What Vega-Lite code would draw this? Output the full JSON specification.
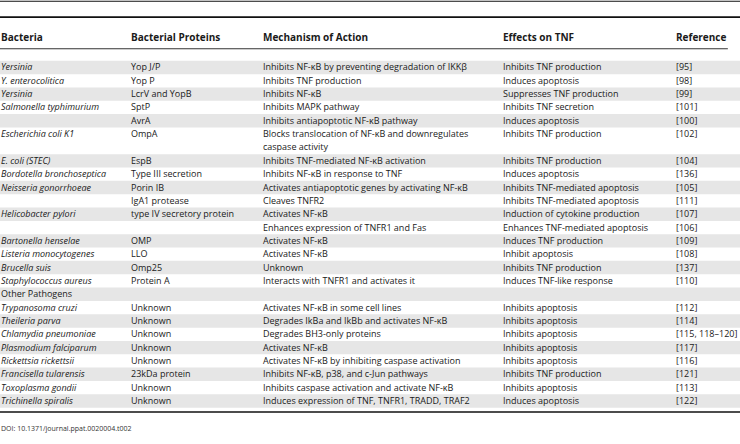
{
  "$schema": "https://vega.github.io/schema/vega-lite/v6.json",
  "padding": 0,
  "spacing": 0,
  "bounds": "flush",
  "config": {"view": {"stroke": null}, "text": {"font": "Open Sans", "fontSize": 9, "color": "#1a1a1a", "align": "left", "baseline": "middle"}},
  "datasets": {
    "header": [
      {"col": "Bacteria", "text": "Bacteria"},
      {"col": "Bacterial Proteins", "text": "Bacterial Proteins"},
      {"col": "Mechanism of Action", "text": "Mechanism of Action"},
      {"col": "Effects on TNF", "text": "Effects on TNF"},
      {"col": "Reference", "text": "Reference"}
    ],
    "cells": [
      {"row": 1, "line": 1, "col": "Bacteria", "text": "Yersinia"},
      {"row": 1, "line": 1, "col": "Bacterial Proteins", "text": "Yop J/P"},
      {"row": 1, "line": 1, "col": "Mechanism of Action", "text": "Inhibits NF-κB by preventing degradation of IKKβ"},
      {"row": 1, "line": 1, "col": "Effects on TNF", "text": "Inhibits TNF production"},
      {"row": 1, "line": 1, "col": "Reference", "text": "[95]"},
      {"row": 2, "line": 2, "col": "Bacteria", "text": "Y. enterocolitica"},
      {"row": 2, "line": 2, "col": "Bacterial Proteins", "text": "Yop P"},
      {"row": 2, "line": 2, "col": "Mechanism of Action", "text": "Inhibits TNF production"},
      {"row": 2, "line": 2, "col": "Effects on TNF", "text": "Induces apoptosis"},
      {"row": 2, "line": 2, "col": "Reference", "text": "[98]"},
      {"row": 3, "line": 3, "col": "Bacteria", "text": "Yersinia"},
      {"row": 3, "line": 3, "col": "Bacterial Proteins", "text": "LcrV and YopB"},
      {"row": 3, "line": 3, "col": "Mechanism of Action", "text": "Inhibits NF-κB"},
      {"row": 3, "line": 3, "col": "Effects on TNF", "text": "Suppresses TNF production"},
      {"row": 3, "line": 3, "col": "Reference", "text": "[99]"},
      {"row": 4, "line": 4, "col": "Bacteria", "text": "Salmonella typhimurium"},
      {"row": 4, "line": 4, "col": "Bacterial Proteins", "text": "SptP"},
      {"row": 4, "line": 4, "col": "Mechanism of Action", "text": "Inhibits MAPK pathway"},
      {"row": 4, "line": 4, "col": "Effects on TNF", "text": "Inhibits TNF secretion"},
      {"row": 4, "line": 4, "col": "Reference", "text": "[101]"},
      {"row": 5, "line": 5, "col": "Bacteria", "text": ""},
      {"row": 5, "line": 5, "col": "Bacterial Proteins", "text": "AvrA"},
      {"row": 5, "line": 5, "col": "Mechanism of Action", "text": "Inhibits antiapoptotic NF-κB pathway"},
      {"row": 5, "line": 5, "col": "Effects on TNF", "text": "Induces apoptosis"},
      {"row": 5, "line": 5, "col": "Reference", "text": "[100]"},
      {"row": 6, "line": 6, "col": "Bacteria", "text": "Escherichia coli K1"},
      {"row": 6, "line": 6, "col": "Bacterial Proteins", "text": "OmpA"},
      {"row": 6, "line": 6, "col": "Mechanism of Action", "text": "Blocks translocation of NF-κB and downregulates"},
      {"row": 6, "line": 7, "col": "Mechanism of Action", "text": "caspase activity"},
      {"row": 6, "line": 6, "col": "Effects on TNF", "text": "Inhibits TNF production"},
      {"row": 6, "line": 6, "col": "Reference", "text": "[102]"},
      {"row": 7, "line": 8, "col": "Bacteria", "text": "E. coli (STEC)"},
      {"row": 7, "line": 8, "col": "Bacterial Proteins", "text": "EspB"},
      {"row": 7, "line": 8, "col": "Mechanism of Action", "text": "Inhibits TNF-mediated NF-κB activation"},
      {"row": 7, "line": 8, "col": "Effects on TNF", "text": "Inhibits TNF production"},
      {"row": 7, "line": 8, "col": "Reference", "text": "[104]"},
      {"row": 8, "line": 9, "col": "Bacteria", "text": "Bordotella bronchoseptica"},
      {"row": 8, "line": 9, "col": "Bacterial Proteins", "text": "Type III secretion"},
      {"row": 8, "line": 9, "col": "Mechanism of Action", "text": "Inhibits NF-κB in response to TNF"},
      {"row": 8, "line": 9, "col": "Effects on TNF", "text": "Induces apoptosis"},
      {"row": 8, "line": 9, "col": "Reference", "text": "[136]"},
      {"row": 9, "line": 10, "col": "Bacteria", "text": "Neisseria gonorrhoeae"},
      {"row": 9, "line": 10, "col": "Bacterial Proteins", "text": "Porin IB"},
      {"row": 9, "line": 10, "col": "Mechanism of Action", "text": "Activates antiapoptotic genes by activating NF-κB"},
      {"row": 9, "line": 10, "col": "Effects on TNF", "text": "Inhibits TNF-mediated apoptosis"},
      {"row": 9, "line": 10, "col": "Reference", "text": "[105]"},
      {"row": 10, "line": 11, "col": "Bacteria", "text": ""},
      {"row": 10, "line": 11, "col": "Bacterial Proteins", "text": "IgA1 protease"},
      {"row": 10, "line": 11, "col": "Mechanism of Action", "text": "Cleaves TNFR2"},
      {"row": 10, "line": 11, "col": "Effects on TNF", "text": "Inhibits TNF-mediated apoptosis"},
      {"row": 10, "line": 11, "col": "Reference", "text": "[111]"},
      {"row": 11, "line": 12, "col": "Bacteria", "text": "Helicobacter pylori"},
      {"row": 11, "line": 12, "col": "Bacterial Proteins", "text": "type IV secretory protein"},
      {"row": 11, "line": 12, "col": "Mechanism of Action", "text": "Activates NF-κB"},
      {"row": 11, "line": 12, "col": "Effects on TNF", "text": "Induction of cytokine production"},
      {"row": 11, "line": 12, "col": "Reference", "text": "[107]"},
      {"row": 12, "line": 13, "col": "Bacteria", "text": ""},
      {"row": 12, "line": 13, "col": "Bacterial Proteins", "text": ""},
      {"row": 12, "line": 13, "col": "Mechanism of Action", "text": "Enhances expression of TNFR1 and Fas"},
      {"row": 12, "line": 13, "col": "Effects on TNF", "text": "Enhances TNF-mediated apoptosis"},
      {"row": 12, "line": 13, "col": "Reference", "text": "[106]"},
      {"row": 13, "line": 14, "col": "Bacteria", "text": "Bartonella henselae"},
      {"row": 13, "line": 14, "col": "Bacterial Proteins", "text": "OMP"},
      {"row": 13, "line": 14, "col": "Mechanism of Action", "text": "Activates NF-κB"},
      {"row": 13, "line": 14, "col": "Effects on TNF", "text": "Induces TNF production"},
      {"row": 13, "line": 14, "col": "Reference", "text": "[109]"},
      {"row": 14, "line": 15, "col": "Bacteria", "text": "Listeria monocytogenes"},
      {"row": 14, "line": 15, "col": "Bacterial Proteins", "text": "LLO"},
      {"row": 14, "line": 15, "col": "Mechanism of Action", "text": "Activates NF-κB"},
      {"row": 14, "line": 15, "col": "Effects on TNF", "text": "Inhibit apoptosis"},
      {"row": 14, "line": 15, "col": "Reference", "text": "[108]"},
      {"row": 15, "line": 16, "col": "Bacteria", "text": "Brucella suis"},
      {"row": 15, "line": 16, "col": "Bacterial Proteins", "text": "Omp25"},
      {"row": 15, "line": 16, "col": "Mechanism of Action", "text": "Unknown"},
      {"row": 15, "line": 16, "col": "Effects on TNF", "text": "Inhibits TNF production"},
      {"row": 15, "line": 16, "col": "Reference", "text": "[137]"},
      {"row": 16, "line": 17, "col": "Bacteria", "text": "Staphylococcus aureus"},
      {"row": 16, "line": 17, "col": "Bacterial Proteins", "text": "Protein A"},
      {"row": 16, "line": 17, "col": "Mechanism of Action", "text": "Interacts with TNFR1 and activates it"},
      {"row": 16, "line": 17, "col": "Effects on TNF", "text": "Induces TNF-like response"},
      {"row": 16, "line": 17, "col": "Reference", "text": "[110]"},
      {"row": 17, "line": 18, "col": "Bacteria", "text": "Other Pathogens"},
      {"row": 18, "line": 19, "col": "Bacteria", "text": "Trypanosoma cruzi"},
      {"row": 18, "line": 19, "col": "Bacterial Proteins", "text": "Unknown"},
      {"row": 18, "line": 19, "col": "Mechanism of Action", "text": "Activates NF-κB in some cell lines"},
      {"row": 18, "line": 19, "col": "Effects on TNF", "text": "Inhibits apoptosis"},
      {"row": 18, "line": 19, "col": "Reference", "text": "[112]"},
      {"row": 19, "line": 20, "col": "Bacteria", "text": "Theileria parva"},
      {"row": 19, "line": 20, "col": "Bacterial Proteins", "text": "Unknown"},
      {"row": 19, "line": 20, "col": "Mechanism of Action", "text": "Degrades IkBa and IkBb and activates NF-κB"},
      {"row": 19, "line": 20, "col": "Effects on TNF", "text": "Inhibits apoptosis"},
      {"row": 19, "line": 20, "col": "Reference", "text": "[114]"},
      {"row": 20, "line": 21, "col": "Bacteria", "text": "Chlamydia pneumoniae"},
      {"row": 20, "line": 21, "col": "Bacterial Proteins", "text": "Unknown"},
      {"row": 20, "line": 21, "col": "Mechanism of Action", "text": "Degrades BH3-only proteins"},
      {"row": 20, "line": 21, "col": "Effects on TNF", "text": "Inhibits apoptosis"},
      {"row": 20, "line": 21, "col": "Reference", "text": "[115, 118–120]"},
      {"row": 21, "line": 22, "col": "Bacteria", "text": "Plasmodium falciparum"},
      {"row": 21, "line": 22, "col": "Bacterial Proteins", "text": "Unknown"},
      {"row": 21, "line": 22, "col": "Mechanism of Action", "text": "Activates NF-κB"},
      {"row": 21, "line": 22, "col": "Effects on TNF", "text": "Inhibits apoptosis"},
      {"row": 21, "line": 22, "col": "Reference", "text": "[117]"},
      {"row": 22, "line": 23, "col": "Bacteria", "text": "Rickettsia rickettsii"},
      {"row": 22, "line": 23, "col": "Bacterial Proteins", "text": "Unknown"},
      {"row": 22, "line": 23, "col": "Mechanism of Action", "text": "Activates NF-κB by inhibiting caspase activation"},
      {"row": 22, "line": 23, "col": "Effects on TNF", "text": "Inhibits apoptosis"},
      {"row": 22, "line": 23, "col": "Reference", "text": "[116]"},
      {"row": 23, "line": 24, "col": "Bacteria", "text": "Francisella tularensis"},
      {"row": 23, "line": 24, "col": "Bacterial Proteins", "text": "23kDa protein"},
      {"row": 23, "line": 24, "col": "Mechanism of Action", "text": "Inhibits NF-κB, p38, and c-Jun pathways"},
      {"row": 23, "line": 24, "col": "Effects on TNF", "text": "Inhibits TNF production"},
      {"row": 23, "line": 24, "col": "Reference", "text": "[121]"},
      {"row": 24, "line": 25, "col": "Bacteria", "text": "Toxoplasma gondii"},
      {"row": 24, "line": 25, "col": "Bacterial Proteins", "text": "Unknown"},
      {"row": 24, "line": 25, "col": "Mechanism of Action", "text": "Inhibits caspase activation and activate NF-κB"},
      {"row": 24, "line": 25, "col": "Effects on TNF", "text": "Inhibits apoptosis"},
      {"row": 24, "line": 25, "col": "Reference", "text": "[113]"},
      {"row": 25, "line": 26, "col": "Bacteria", "text": "Trichinella spiralis"},
      {"row": 25, "line": 26, "col": "Bacterial Proteins", "text": "Unknown"},
      {"row": 25, "line": 26, "col": "Mechanism of Action", "text": "Induces expression of TNF, TNFR1, TRADD, TRAF2"},
      {"row": 25, "line": 26, "col": "Effects on TNF", "text": "Induces apoptosis"},
      {"row": 25, "line": 26, "col": "Reference", "text": "[122]"}
    ]
  },
  "hconcat": [
    {
      "width": 131, "height": 444,
      "layer": [
        {"data": {"name": "cells"}, "transform": [{"filter": "datum.col === 'Bacteria' && datum.row % 2 === 1"}],
         "mark": {"type": "rect", "color": "#e6e6e6", "yOffset": -6.7, "y2Offset": 6.7},
         "encoding": {"y": {"field": "line", "type": "quantitative", "scale": {"domain": [-3.98, 29.3], "reverse": true, "nice": false, "zero": false}, "axis": null}, "y2": {"field": "line"}}},
        {"data": {"values": [{}]}, "mark": {"type": "rect", "color": "#111", "yOffset": -0.5, "y2Offset": 0.5}, "encoding": {"y": {"datum": -3.96, "type": "quantitative"}, "y2": {"datum": -3.96}}},
        {"data": {"values": [{}]}, "mark": {"type": "rect", "color": "#111", "yOffset": -0.8, "y2Offset": 0.8}, "encoding": {"y": {"datum": -2.77, "type": "quantitative"}, "y2": {"datum": -2.77}}},
        {"data": {"values": [{}]}, "mark": {"type": "rect", "color": "#333", "yOffset": -0.5, "y2Offset": 0.5}, "encoding": {"y": {"datum": -0.4, "type": "quantitative"}, "y2": {"datum": -0.4}}},
        {"data": {"values": [{}]}, "mark": {"type": "rect", "color": "#111", "yOffset": -0.8, "y2Offset": 0.8}, "encoding": {"y": {"datum": 26.83, "type": "quantitative"}, "y2": {"datum": 26.83}}},
        {"data": {"name": "header"}, "transform": [{"filter": "datum.col === 'Bacteria'"}],
         "mark": {"type": "text", "fontWeight": "bold", "fontSize": 10, "dx": 1},
         "encoding": {"x": {"datum": 0, "type": "quantitative", "scale": {"domain": [0, 1], "nice": false, "zero": false}, "axis": null}, "y": {"datum": -1.23, "type": "quantitative"}, "text": {"field": "text"}}},
        {"data": {"name": "cells"}, "transform": [{"filter": "datum.col === 'Bacteria' && datum.text !== 'Other Pathogens'"}],
         "mark": {"type": "text", "fontStyle": "italic", "dx": 1},
         "encoding": {"x": {"datum": 0, "type": "quantitative"}, "y": {"field": "line", "type": "quantitative"}, "text": {"field": "text"}}},
        {"data": {"name": "cells"}, "transform": [{"filter": "datum.col === 'Bacteria' && datum.text === 'Other Pathogens'"}],
         "mark": {"type": "text", "dx": 1},
         "encoding": {"x": {"datum": 0, "type": "quantitative"}, "y": {"field": "line", "type": "quantitative"}, "text": {"field": "text"}}},
        {"data": {"values": [{"note": "DOI: 10.1371/journal.ppat.0020004.t002"}]},
         "mark": {"type": "text", "fontSize": 7, "color": "#333", "dx": 1},
         "encoding": {"x": {"datum": 0, "type": "quantitative"}, "y": {"datum": 28.1, "type": "quantitative"}, "text": {"field": "note"}}}
      ]
    },
    {
      "width": 132, "height": 444,
      "layer": [
        {"data": {"name": "cells"}, "transform": [{"filter": "datum.col === 'Bacteria' && datum.row % 2 === 1"}],
         "mark": {"type": "rect", "color": "#e6e6e6", "yOffset": -6.7, "y2Offset": 6.7},
         "encoding": {"y": {"field": "line", "type": "quantitative", "scale": {"domain": [-3.98, 29.3], "reverse": true, "nice": false, "zero": false}, "axis": null}, "y2": {"field": "line"}}},
        {"data": {"values": [{}]}, "mark": {"type": "rect", "color": "#111", "yOffset": -0.5, "y2Offset": 0.5}, "encoding": {"y": {"datum": -3.96, "type": "quantitative"}, "y2": {"datum": -3.96}}},
        {"data": {"values": [{}]}, "mark": {"type": "rect", "color": "#111", "yOffset": -0.8, "y2Offset": 0.8}, "encoding": {"y": {"datum": -2.77, "type": "quantitative"}, "y2": {"datum": -2.77}}},
        {"data": {"values": [{}]}, "mark": {"type": "rect", "color": "#333", "yOffset": -0.5, "y2Offset": 0.5}, "encoding": {"y": {"datum": -0.4, "type": "quantitative"}, "y2": {"datum": -0.4}}},
        {"data": {"values": [{}]}, "mark": {"type": "rect", "color": "#111", "yOffset": -0.8, "y2Offset": 0.8}, "encoding": {"y": {"datum": 26.83, "type": "quantitative"}, "y2": {"datum": 26.83}}},
        {"data": {"name": "header"}, "transform": [{"filter": "datum.col === 'Bacterial Proteins'"}],
         "mark": {"type": "text", "fontWeight": "bold", "fontSize": 10},
         "encoding": {"x": {"datum": 0, "type": "quantitative", "scale": {"domain": [0, 1], "nice": false, "zero": false}, "axis": null}, "y": {"datum": -1.23, "type": "quantitative"}, "text": {"field": "text"}}},
        {"data": {"name": "cells"}, "transform": [{"filter": "datum.col === 'Bacterial Proteins'"}],
         "mark": {"type": "text"},
         "encoding": {"x": {"datum": 0, "type": "quantitative"}, "y": {"field": "line", "type": "quantitative"}, "text": {"field": "text"}}}
      ]
    },
    {
      "width": 240, "height": 444,
      "layer": [
        {"data": {"name": "cells"}, "transform": [{"filter": "datum.col === 'Bacteria' && datum.row % 2 === 1"}],
         "mark": {"type": "rect", "color": "#e6e6e6", "yOffset": -6.7, "y2Offset": 6.7},
         "encoding": {"y": {"field": "line", "type": "quantitative", "scale": {"domain": [-3.98, 29.3], "reverse": true, "nice": false, "zero": false}, "axis": null}, "y2": {"field": "line"}}},
        {"data": {"values": [{}]}, "mark": {"type": "rect", "color": "#111", "yOffset": -0.5, "y2Offset": 0.5}, "encoding": {"y": {"datum": -3.96, "type": "quantitative"}, "y2": {"datum": -3.96}}},
        {"data": {"values": [{}]}, "mark": {"type": "rect", "color": "#111", "yOffset": -0.8, "y2Offset": 0.8}, "encoding": {"y": {"datum": -2.77, "type": "quantitative"}, "y2": {"datum": -2.77}}},
        {"data": {"values": [{}]}, "mark": {"type": "rect", "color": "#333", "yOffset": -0.5, "y2Offset": 0.5}, "encoding": {"y": {"datum": -0.4, "type": "quantitative"}, "y2": {"datum": -0.4}}},
        {"data": {"values": [{}]}, "mark": {"type": "rect", "color": "#111", "yOffset": -0.8, "y2Offset": 0.8}, "encoding": {"y": {"datum": 26.83, "type": "quantitative"}, "y2": {"datum": 26.83}}},
        {"data": {"name": "header"}, "transform": [{"filter": "datum.col === 'Mechanism of Action'"}],
         "mark": {"type": "text", "fontWeight": "bold", "fontSize": 10},
         "encoding": {"x": {"datum": 0, "type": "quantitative", "scale": {"domain": [0, 1], "nice": false, "zero": false}, "axis": null}, "y": {"datum": -1.23, "type": "quantitative"}, "text": {"field": "text"}}},
        {"data": {"name": "cells"}, "transform": [{"filter": "datum.col === 'Mechanism of Action'"}],
         "mark": {"type": "text"},
         "encoding": {"x": {"datum": 0, "type": "quantitative"}, "y": {"field": "line", "type": "quantitative"}, "text": {"field": "text"}}}
      ]
    },
    {
      "width": 173, "height": 444,
      "layer": [
        {"data": {"name": "cells"}, "transform": [{"filter": "datum.col === 'Bacteria' && datum.row % 2 === 1"}],
         "mark": {"type": "rect", "color": "#e6e6e6", "yOffset": -6.7, "y2Offset": 6.7},
         "encoding": {"y": {"field": "line", "type": "quantitative", "scale": {"domain": [-3.98, 29.3], "reverse": true, "nice": false, "zero": false}, "axis": null}, "y2": {"field": "line"}}},
        {"data": {"values": [{}]}, "mark": {"type": "rect", "color": "#111", "yOffset": -0.5, "y2Offset": 0.5}, "encoding": {"y": {"datum": -3.96, "type": "quantitative"}, "y2": {"datum": -3.96}}},
        {"data": {"values": [{}]}, "mark": {"type": "rect", "color": "#111", "yOffset": -0.8, "y2Offset": 0.8}, "encoding": {"y": {"datum": -2.77, "type": "quantitative"}, "y2": {"datum": -2.77}}},
        {"data": {"values": [{}]}, "mark": {"type": "rect", "color": "#333", "yOffset": -0.5, "y2Offset": 0.5}, "encoding": {"y": {"datum": -0.4, "type": "quantitative"}, "y2": {"datum": -0.4}}},
        {"data": {"values": [{}]}, "mark": {"type": "rect", "color": "#111", "yOffset": -0.8, "y2Offset": 0.8}, "encoding": {"y": {"datum": 26.83, "type": "quantitative"}, "y2": {"datum": 26.83}}},
        {"data": {"name": "header"}, "transform": [{"filter": "datum.col === 'Effects on TNF'"}],
         "mark": {"type": "text", "fontWeight": "bold", "fontSize": 10},
         "encoding": {"x": {"datum": 0, "type": "quantitative", "scale": {"domain": [0, 1], "nice": false, "zero": false}, "axis": null}, "y": {"datum": -1.23, "type": "quantitative"}, "text": {"field": "text"}}},
        {"data": {"name": "cells"}, "transform": [{"filter": "datum.col === 'Effects on TNF'"}],
         "mark": {"type": "text"},
         "encoding": {"x": {"datum": 0, "type": "quantitative"}, "y": {"field": "line", "type": "quantitative"}, "text": {"field": "text"}}}
      ]
    },
    {
      "width": 64, "height": 444,
      "layer": [
        {"data": {"name": "cells"}, "transform": [{"filter": "datum.col === 'Bacteria' && datum.row % 2 === 1"}],
         "mark": {"type": "rect", "color": "#e6e6e6", "yOffset": -6.7, "y2Offset": 6.7},
         "encoding": {"y": {"field": "line", "type": "quantitative", "scale": {"domain": [-3.98, 29.3], "reverse": true, "nice": false, "zero": false}, "axis": null}, "y2": {"field": "line"}}},
        {"data": {"values": [{}]}, "mark": {"type": "rect", "color": "#111", "yOffset": -0.5, "y2Offset": 0.5}, "encoding": {"y": {"datum": -3.96, "type": "quantitative"}, "y2": {"datum": -3.96}}},
        {"data": {"values": [{}]}, "mark": {"type": "rect", "color": "#111", "yOffset": -0.8, "y2Offset": 0.8}, "encoding": {"y": {"datum": -2.77, "type": "quantitative"}, "y2": {"datum": -2.77}}},
        {"data": {"values": [{}]}, "mark": {"type": "rect", "color": "#333", "yOffset": -0.5, "y2Offset": 0.5}, "encoding": {"x": {"datum": 0, "type": "quantitative", "scale": {"domain": [0, 1], "nice": false, "zero": false}, "axis": null}, "x2": {"datum": 0.81}, "y": {"datum": -0.4, "type": "quantitative"}, "y2": {"datum": -0.4}}},
        {"data": {"values": [{}]}, "mark": {"type": "rect", "color": "#111", "yOffset": -0.8, "y2Offset": 0.8}, "encoding": {"y": {"datum": 26.83, "type": "quantitative"}, "y2": {"datum": 26.83}}},
        {"data": {"name": "header"}, "transform": [{"filter": "datum.col === 'Reference'"}],
         "mark": {"type": "text", "fontWeight": "bold", "fontSize": 10},
         "encoding": {"x": {"datum": 0, "type": "quantitative"}, "y": {"datum": -1.23, "type": "quantitative"}, "text": {"field": "text"}}},
        {"data": {"name": "cells"}, "transform": [{"filter": "datum.col === 'Reference'"}],
         "mark": {"type": "text"},
         "encoding": {"x": {"datum": 0, "type": "quantitative"}, "y": {"field": "line", "type": "quantitative"}, "text": {"field": "text"}}}
      ]
    }
  ]
}
